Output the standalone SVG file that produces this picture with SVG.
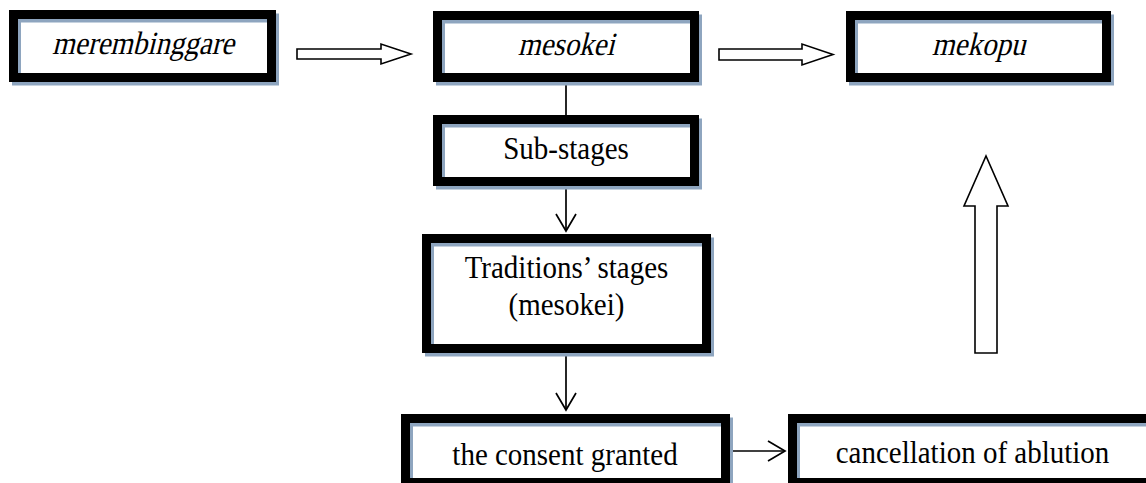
<svg xmlns="http://www.w3.org/2000/svg" width="1146" height="483" viewBox="0 0 1146 483">
  <style>
    .bg { fill: #ffffff; stroke: none; }
    .shadow { fill: none; stroke: #8ea5bf; stroke-width: 9; }
    .frame { fill: none; stroke: #000000; stroke-width: 9; }
    .lbl { font-family: "Liberation Serif", "DejaVu Serif", serif; font-size: 29px; font-style: normal; fill: #000000; text-anchor: middle; }
    .line { fill: none; stroke: #000000; stroke-width: 1.7; }
    .hollow { fill: #ffffff; stroke: #000000; stroke-width: 1.6; stroke-linejoin: miter; }
  </style>
  <defs>
    <marker id="open" viewBox="0 0 20 22" refX="18" refY="11" markerWidth="20" markerHeight="22" markerUnits="userSpaceOnUse" orient="auto">
      <path d="M1,1 L18,11 L1,21" fill="none" stroke="#000" stroke-width="1.7"/>
    </marker>
  </defs>
  <rect width="1146" height="483" fill="#ffffff"/>

  <g id="connectors">
    <polygon class="hollow" points="297,49 381,49 381,44 411,54 381,64 381,59 297,59"/>
    <polygon class="hollow" points="719,49 802,49 802,44 833,54.5 802,65 802,60 719,60"/>
    <polygon class="hollow" points="975,353 975,206 964,206 986,156 1008,206 997,206 997,353"/>
    <line class="line" x1="566" y1="82" x2="566" y2="115"/>
    <line class="line" x1="566" y1="186" x2="566" y2="231" marker-end="url(#open)"/>
    <line class="line" x1="566" y1="353" x2="566" y2="410" marker-end="url(#open)"/>
    <line class="line" x1="730" y1="451" x2="785" y2="451" marker-end="url(#open)"/>
  </g>

  <g id="node-merembinggare">
    <rect class="bg" x="13.5" y="14.5" width="258" height="63"/>
    <rect class="shadow" x="16.5" y="18" width="258" height="63"/>
    <rect class="frame" x="13.5" y="14.5" width="258" height="63"/>
    <text class="lbl" transform="translate(143,54) skewX(-14) scale(1,1.12)">merembinggare</text>
  </g>

  <g id="node-mesokei">
    <rect class="bg" x="437.5" y="15.5" width="257" height="62"/>
    <rect class="shadow" x="440.5" y="19" width="257" height="62"/>
    <rect class="frame" x="437.5" y="15.5" width="257" height="62"/>
    <text class="lbl" transform="translate(566,55) skewX(-14) scale(1,1.12)">mesokei</text>
  </g>

  <g id="node-mekopu">
    <rect class="bg" x="850.5" y="15.5" width="256" height="62"/>
    <rect class="shadow" x="853.5" y="19" width="256" height="62"/>
    <rect class="frame" x="850.5" y="15.5" width="256" height="62"/>
    <text class="lbl" transform="translate(978.5,55) skewX(-14) scale(1,1.12)">mekopu</text>
  </g>

  <g id="node-substages">
    <rect class="bg" x="437.5" y="119.5" width="257" height="62"/>
    <rect class="shadow" x="440.5" y="123" width="257" height="62"/>
    <rect class="frame" x="437.5" y="119.5" width="257" height="62"/>
    <text class="lbl" transform="translate(566,159) scale(1,1.12)">Sub-stages</text>
  </g>

  <g id="node-traditions">
    <rect class="bg" x="426.5" y="238.5" width="280" height="110"/>
    <rect class="shadow" x="429.5" y="242" width="280" height="110"/>
    <rect class="frame" x="426.5" y="238.5" width="280" height="110"/>
    <text class="lbl" transform="translate(566.5,278) scale(1,1.12)">Traditions’ stages</text>
    <text class="lbl" transform="translate(566.5,315) scale(1,1.12)">(mesokei)</text>
  </g>

  <g id="node-consent">
    <rect class="bg" x="405.5" y="418.5" width="320" height="64"/>
    <rect class="shadow" x="408.5" y="422" width="320" height="64"/>
    <rect class="frame" x="405.5" y="418.5" width="320" height="64"/>
    <text class="lbl" transform="translate(565,465) scale(1,1.12)">the consent granted</text>
  </g>

  <g id="node-cancellation">
    <rect class="bg" x="792.5" y="418.5" width="362" height="64"/>
    <rect class="shadow" x="795.5" y="422" width="362" height="64"/>
    <rect class="frame" x="792.5" y="418.5" width="362" height="64"/>
    <text class="lbl" transform="translate(972.5,463) scale(1,1.12)">cancellation of ablution</text>
  </g>
</svg>
